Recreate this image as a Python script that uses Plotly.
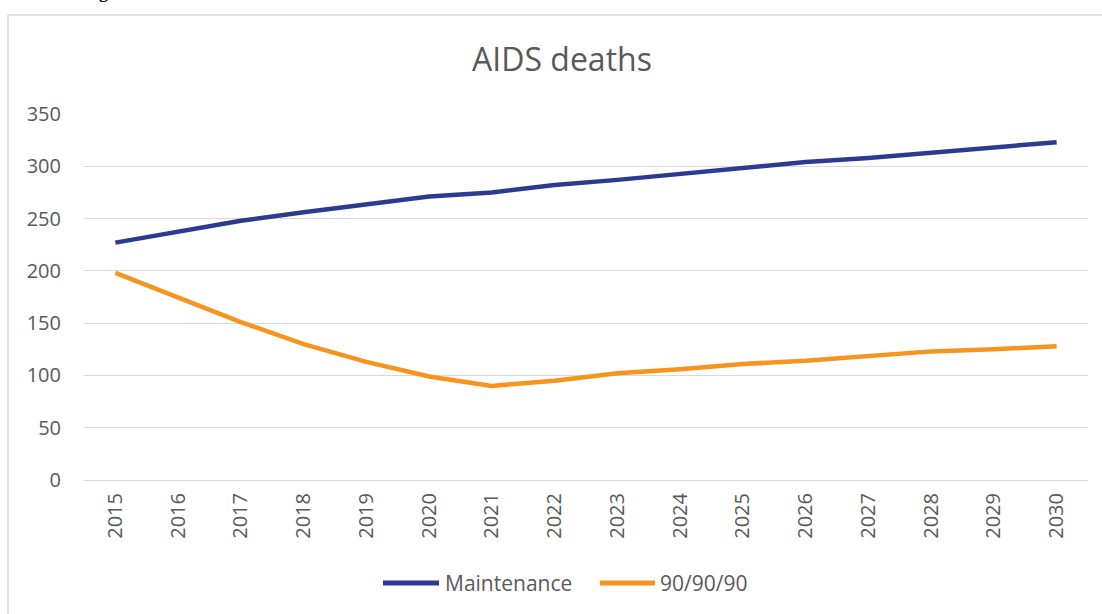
import plotly.graph_objects as go

years = [str(y) for y in range(2015, 2031)]
maintenance = [227, 238, 248, 256, 264, 271, 275, 282, 287, 293, 299, 304, 308, 313, 318, 323]
ninety = [198, 174, 151, 130, 113, 99, 90, 95, 102, 106, 111, 114, 118, 123, 125, 128]
y_ticks = [0, 50, 100, 150, 200, 250, 300, 350]
series_names = ["Maintenance", "90/90/90"]
series_colors = ["#2E3A8F", "#F7941D"]

W, H = 1102, 614
L, R, T, B = 84, 1088, 114, 480

FONT = "Open Sans"
GREY = "#595959"

fig = go.Figure()
for name, vals, col in zip(series_names, [maintenance, ninety], series_colors):
    fig.add_trace(go.Scatter(x=years, y=vals, mode="lines", name=name,
                             line=dict(color=col, width=4.5), showlegend=False))

def px_x(p):
    return (p - L) / (R - L)

def px_y(p):
    return (B - p) / (B - T)

# custom legend (Excel-style long line samples)
legend_y = 583
legend_items = [(383, 439, 443), (600, 655, 658)]
shapes = [dict(type="rect", xref="paper", yref="paper",
               x0=px_x(8), x1=px_x(1130), y0=px_y(650), y1=px_y(15),
               line=dict(color="#D9D9D9", width=1.5), fillcolor="rgba(0,0,0,0)", layer="below")]
annotations = [dict(text="g", xref="paper", yref="paper", x=px_x(103), y=px_y(5),
                    xanchor="center", yanchor="bottom", showarrow=False,
                    font=dict(size=17, color="black", family=FONT))]
for (lx0, lx1, tx), name, col in zip(legend_items, series_names, series_colors):
    shapes.append(dict(type="line", xref="paper", yref="paper",
                       x0=px_x(lx0), x1=px_x(lx1), y0=px_y(legend_y), y1=px_y(legend_y),
                       line=dict(color=col, width=5)))
    annotations.append(dict(text=name, xref="paper", yref="paper", x=px_x(tx), y=px_y(legend_y),
                            xanchor="left", yanchor="middle", showarrow=False,
                            font=dict(size=21, color=GREY, family=FONT)))

fig.update_layout(
    width=W, height=H,
    margin=dict(l=L, r=W - R, t=T, b=H - B),
    paper_bgcolor="white", plot_bgcolor="white",
    font=dict(family=FONT, color=GREY, size=20),
    title=dict(text="AIDS deaths", x=562 / W, xanchor="center", y=1 - 60 / H, yanchor="middle",
               font=dict(size=32, color=GREY, family=FONT)),
    showlegend=False,
    xaxis=dict(type="category", tickangle=-90, showgrid=False, showline=False,
               ticks="", tickfont=dict(size=20, color=GREY), range=[-0.5, len(years) - 0.5],
               ticklabelstandoff=8),
    yaxis=dict(range=[0, 350], tickvals=y_ticks, showgrid=True, gridcolor="#D9D9D9",
               gridwidth=1, zeroline=True, zerolinecolor="#D9D9D9", zerolinewidth=1,
               showline=False, ticks="", tickfont=dict(size=20, color=GREY),
               ticklabelstandoff=22),
    shapes=shapes,
    annotations=annotations,
)

fig.write_html("out.html")
